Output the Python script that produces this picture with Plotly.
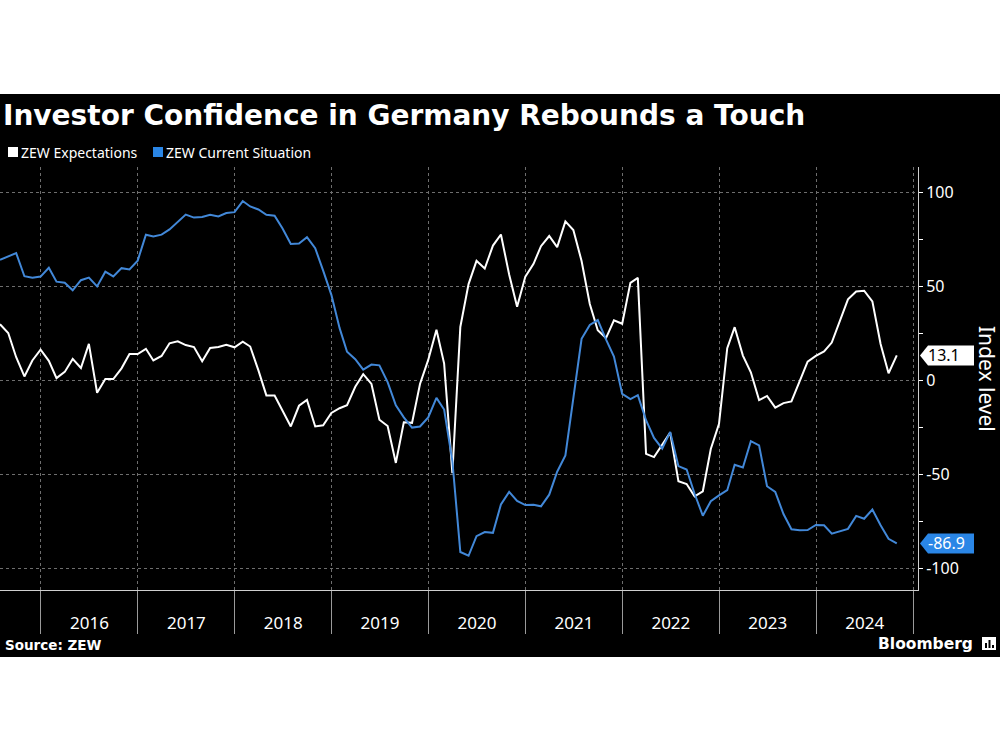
import plotly.graph_objects as go
import pandas as pd

# ---------------- data ----------------
dates = pd.date_range("2015-07-31", "2024-10-31", freq="ME")

zew_expectations = [
    29.7, 25.0, 12.1, 1.9, 10.4, 16.1,
    10.2, 1.0, 4.3, 11.2, 6.4, 19.2, -6.8, 0.5, 0.5, 6.2, 13.8, 13.8,
    16.6, 10.4, 12.8, 19.5, 20.6, 18.6, 17.5, 10.0, 17.0, 17.6, 18.7, 17.4,
    20.4, 17.8, 5.1, -8.2, -8.2, -16.1, -24.7, -13.7, -10.6, -24.7, -24.1, -17.5,
    -15.0, -13.4, -3.6, 3.1, -2.1, -21.1, -24.5, -44.1, -22.5, -22.8, -2.1, 10.7,
    26.7, 8.7, -49.5, 28.2, 51.0, 63.4, 59.3, 71.5, 77.4, 56.1, 39.0, 55.0,
    61.8, 71.2, 76.6, 70.7, 84.4, 79.8, 63.3, 40.4, 26.5, 22.3, 31.7, 29.9,
    51.7, 54.3, -39.3, -41.0, -34.3, -28.0, -53.8, -55.3, -61.9, -59.2, -36.7, -23.3,
    16.9, 28.1, 13.0, 4.1, -10.7, -8.5, -14.7, -12.3, -11.4, -1.1, 9.8, 12.8,
    15.2, 19.9, 31.7, 42.9, 47.1, 47.5, 41.8, 19.2, 3.6, 13.1,
]

zew_current = [
    63.9, 65.7, 67.5, 55.2, 54.4, 55.0,
    59.7, 52.3, 51.7, 47.7, 53.1, 54.5, 49.8, 57.6, 55.1, 59.5, 58.8, 63.5,
    77.3, 76.4, 77.3, 80.1, 83.9, 88.0, 86.4, 86.7, 87.9, 87.0, 88.8, 89.3,
    95.2, 92.3, 90.7, 87.9, 87.4, 80.6, 72.4, 72.6, 76.0, 70.1, 58.2, 45.3,
    27.6, 15.0, 11.1, 5.5, 8.2, 7.8, -1.1, -13.5, -19.9, -25.3, -24.7, -19.9,
    -9.5, -15.7, -43.1, -91.5, -93.5, -83.1, -80.9, -81.3, -66.2, -59.5, -64.3, -66.5,
    -66.4, -67.2, -61.0, -48.8, -40.1, -9.1, 21.9, 29.3, 31.9, 21.6, 12.5, -7.4,
    -10.2, -8.1, -21.4, -30.8, -36.5, -27.6, -45.8, -47.6, -60.5, -72.2, -64.5, -61.4,
    -58.6, -45.1, -46.5, -32.5, -34.8, -56.5, -59.5, -71.3, -79.4, -79.9, -79.8, -77.1,
    -77.3, -81.7, -80.5, -79.2, -72.3, -73.8, -68.9, -77.3, -84.5, -86.9,
]

series_names = ["ZEW Expectations", "ZEW Current Situation"]
y_tickvals = [-100, -50, 0, 50, 100]
y_ticktext = ["-100", "-50", "0", "50", "100"]
y_minor_ticks = [-75, -25, 25, 75]

title_text = "Investor Confidence in Germany Rebounds a Touch"
axis_title = "Index level"
source_text = "Source: ZEW"
brand_text = "Bloomberg"

# ---------------- style / layout helpers ----------------
W, H = 1000, 750
PL, PR, PT, PB = 0, 918, 167, 590   # plot area in pixels


def px_x(px):
    return (px - PL) / (PR - PL)


def px_y(py):
    return (PB - py) / (PB - PT)


WHITE = "#ffffff"
BLUE = "#4288d8"
BLUE_TAG = "#2a86e6"
GRID = "#6e6e6e"
AXIS = "#cfcfcf"
SANS = "Noto Sans"
BOLD = "DejaVu Sans"

fig = go.Figure()
fig.add_trace(go.Scatter(x=dates, y=zew_expectations, mode="lines", name=series_names[0],
                         line=dict(color=WHITE, width=2), showlegend=False))
fig.add_trace(go.Scatter(x=dates, y=zew_current, mode="lines", name=series_names[1],
                         line=dict(color=BLUE, width=2), showlegend=False))

shapes = []
# black band background
shapes.append(dict(type="rect", xref="paper", yref="paper", x0=px_x(-5), x1=px_x(1005),
                   y0=px_y(657), y1=px_y(94), fillcolor="#000000", line=dict(width=0), layer="below"))
# legend squares
shapes.append(dict(type="rect", xref="paper", yref="paper", x0=px_x(8), x1=px_x(18),
                   y0=px_y(157), y1=px_y(147), fillcolor=WHITE, line=dict(width=0)))
shapes.append(dict(type="rect", xref="paper", yref="paper", x0=px_x(153), x1=px_x(163),
                   y0=px_y(157), y1=px_y(147), fillcolor=BLUE_TAG, line=dict(width=0)))
# last value tags
tag_path = "M 2 0 L 10 10 L 56 10 L 56 -10 L 10 -10 Z"
shapes.append(dict(type="path", xref="paper", yref="y", xsizemode="pixel", ysizemode="pixel",
                   xanchor=1, yanchor=zew_expectations[-1], path=tag_path,
                   fillcolor=WHITE, line=dict(width=0)))
shapes.append(dict(type="path", xref="paper", yref="y", xsizemode="pixel", ysizemode="pixel",
                   xanchor=1, yanchor=zew_current[-1], path=tag_path,
                   fillcolor=BLUE_TAG, line=dict(width=0)))
# Bloomberg logo
shapes.append(dict(type="rect", xref="paper", yref="paper", x0=px_x(982), x1=px_x(996),
                   y0=px_y(650), y1=px_y(637), fillcolor=WHITE, line=dict(width=0)))
for bx, top in [(985, 643), (988.5, 640), (992, 645)]:
    shapes.append(dict(type="rect", xref="paper", yref="paper", x0=px_x(bx), x1=px_x(bx + 2),
                       y0=px_y(648), y1=px_y(top), fillcolor="#000000", line=dict(width=0)))

annotations = [
    dict(text="<b>" + title_text + "</b>", xref="paper", yref="paper", x=px_x(1), y=px_y(115),
         xanchor="left", yanchor="middle", showarrow=False,
         font=dict(family=BOLD, size=28, color=WHITE)),
    dict(text=series_names[0], xref="paper", yref="paper", x=px_x(19), y=px_y(152),
         xanchor="left", yanchor="middle", showarrow=False,
         font=dict(family=SANS, size=14, color=WHITE)),
    dict(text=series_names[1], xref="paper", yref="paper", x=px_x(164), y=px_y(152),
         xanchor="left", yanchor="middle", showarrow=False,
         font=dict(family=SANS, size=14, color=WHITE)),
    dict(text=axis_title, xref="paper", yref="paper", x=px_x(987), y=px_y(379),
         xanchor="center", yanchor="middle", showarrow=False, textangle=90,
         font=dict(family=SANS, size=21, color=WHITE)),
    dict(text=f"{zew_expectations[-1]:.1f}", xref="paper", yref="y", x=1, y=zew_expectations[-1],
         xanchor="left", yanchor="middle", xshift=8, showarrow=False,
         font=dict(family=SANS, size=16, color="#000000")),
    dict(text=f"{zew_current[-1]:.1f}", xref="paper", yref="y", x=1, y=zew_current[-1],
         xanchor="left", yanchor="middle", xshift=8, showarrow=False,
         font=dict(family=SANS, size=16, color=WHITE)),
    dict(text="<b>" + source_text + "</b>", xref="paper", yref="paper", x=px_x(3), y=px_y(645),
         xanchor="left", yanchor="middle", showarrow=False,
         font=dict(family=BOLD, size=13.5, color=WHITE)),
    dict(text="<b>" + brand_text + "</b>", xref="paper", yref="paper", x=px_x(975), y=px_y(644),
         xanchor="right", yanchor="middle", showarrow=False,
         font=dict(family=BOLD, size=15.5, color=WHITE)),
]

fig.update_layout(
    width=W, height=H, autosize=False,
    margin=dict(l=PL, r=W - PR, t=PT, b=H - PB, pad=0),
    paper_bgcolor="#ffffff", plot_bgcolor="#000000",
    showlegend=False,
    shapes=shapes, annotations=annotations,
    xaxis=dict(
        type="date", range=["2015-07-31", "2025-01-19"],
        tickmode="linear", tick0="2015-01-01", dtick="M12",
        ticklabelmode="period", tickformat="%Y",
        ticks="outside", ticklen=43, tickwidth=1, tickcolor="#9a9a9a",
        ticklabelstandoff=-25,
        tickfont=dict(family=SANS, size=17, color=WHITE),
        showgrid=True, gridcolor=GRID, griddash="dot", gridwidth=1,
        showline=True, linecolor=AXIS, linewidth=1,
        zeroline=False,
    ),
    yaxis=dict(
        side="right", range=[-111.7, 113.3],
        tickmode="array", tickvals=y_tickvals, ticktext=y_ticktext,
        ticks="outside", ticklen=4, tickwidth=1, tickcolor=WHITE,
        tickfont=dict(family=SANS, size=16, color=WHITE),
        showgrid=True, gridcolor=GRID, griddash="dot", gridwidth=1,
        showline=True, linecolor=AXIS, linewidth=1,
        zeroline=False,
        minor=dict(tickmode="array", tickvals=y_minor_ticks, ticks="outside",
                   ticklen=4, tickcolor=WHITE, showgrid=False),
    ),
)

fig.write_html("out.html", config={"displayModeBar": False},
               post_script="document.body.style.margin='0';document.body.style.overflow='hidden';")
